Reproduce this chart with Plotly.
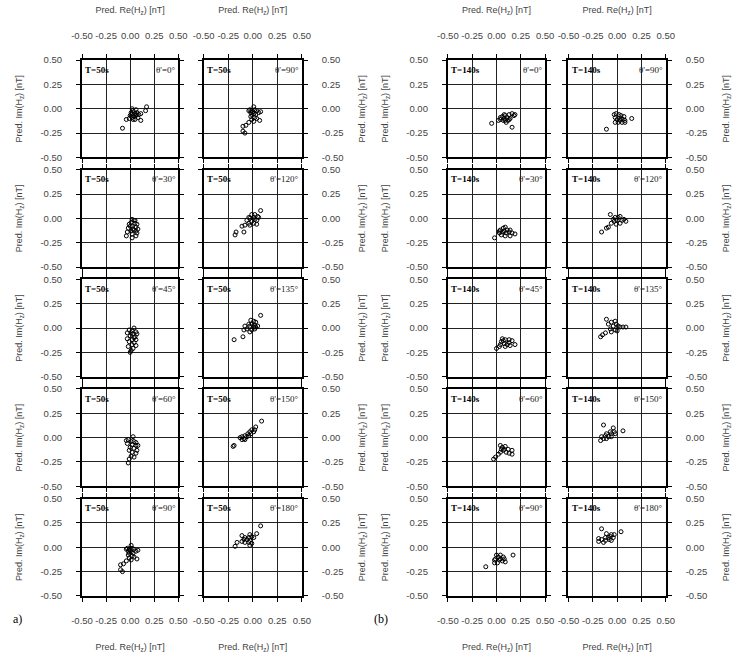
import plotly.graph_objects as go

W, H = 739, 657

tick_vals = [-0.5, -0.25, 0, 0.25, 0.5]
tick_text = ["-0.50", "-0.25", "0.00", "0.25", "0.50"]
x_title = "Pred. Re(H<sub>z</sub>) [nT]"
y_title = "Pred. Im(H<sub>z</sub>) [nT]"

# ---- T=50s ----
re_50_0 = [-0.08, -0.04, 0.17, 0.16, 0.11, 0.02, 0.03, 0.06, 0.01, 0.02, 0.05, 0.07, 0.0, 0.02, 0.04, 0.06, 0.09, -0.01, 0.03, 0.08, 0.11, 0.05, 0.01, 0.06]
im_50_0 = [-0.20, -0.11, 0.02, -0.02, -0.12, 0.0, -0.02, -0.01, -0.04, -0.05, -0.05, -0.04, -0.07, -0.09, -0.08, -0.07, -0.06, -0.10, -0.11, -0.09, -0.05, -0.11, -0.06, -0.06]

re_50_30 = [0.02, 0.04, 0.01, 0.05, -0.01, 0.07, 0.02, 0.06, -0.02, 0.03, 0.08, 0.01, 0.06, -0.03, 0.07, 0.02, -0.04, 0.02, 0.06, 0.05, 0.0, 0.04]
im_50_30 = [-0.01, -0.02, -0.04, -0.05, -0.06, -0.06, -0.08, -0.09, -0.10, -0.11, -0.11, -0.13, -0.13, -0.14, -0.15, -0.16, -0.18, -0.20, -0.18, -0.02, -0.08, -0.12]

re_50_45 = [0.04, -0.01, 0.02, 0.06, -0.03, 0.03, 0.07, 0.0, 0.05, -0.03, 0.02, 0.06, -0.01, 0.04, 0.02, 0.06, -0.02, 0.03, 0.01, 0.0, 0.01, 0.04]
im_50_45 = [0.0, -0.02, -0.03, -0.04, -0.05, -0.06, -0.06, -0.08, -0.09, -0.11, -0.12, -0.12, -0.14, -0.15, -0.17, -0.18, -0.19, -0.21, -0.23, -0.25, -0.05, -0.10]

re_50_60 = [0.03, -0.04, -0.02, 0.01, 0.04, 0.06, -0.03, 0.02, 0.06, 0.08, 0.0, 0.04, 0.07, -0.01, 0.02, 0.06, 0.01, 0.04, -0.01, -0.02]
im_50_60 = [0.01, -0.03, -0.02, -0.04, -0.04, -0.05, -0.06, -0.07, -0.08, -0.08, -0.10, -0.11, -0.13, -0.13, -0.15, -0.16, -0.19, -0.20, -0.22, -0.26]

re_50_90 = [0.01, -0.03, 0.02, -0.01, 0.04, 0.08, 0.01, -0.04, -0.01, 0.03, -0.02, 0.02, 0.04, 0.07, -0.01, 0.01, -0.04, -0.07, -0.10, -0.10, -0.08, 0.06, 0.0, -0.02]
im_50_90 = [0.02, -0.01, -0.01, -0.02, -0.02, -0.03, -0.05, -0.02, -0.06, -0.06, -0.08, -0.09, -0.10, -0.12, -0.11, -0.13, -0.14, -0.17, -0.18, -0.23, -0.25, -0.04, -0.03, -0.04]

re_50_120 = [0.08, 0.02, -0.01, 0.05, -0.04, 0.01, 0.06, -0.03, 0.02, -0.06, -0.01, 0.04, -0.04, 0.01, 0.04, -0.08, -0.03, -0.11, -0.09, -0.17, -0.18]
im_50_120 = [0.08, 0.04, 0.04, 0.02, 0.01, 0.01, 0.01, 0.0, -0.01, -0.02, -0.03, -0.02, -0.05, -0.05, -0.06, -0.07, -0.07, -0.08, -0.14, -0.14, -0.17]

re_50_135 = [0.08, -0.02, 0.01, 0.03, -0.04, -0.01, 0.02, -0.08, -0.03, 0.01, 0.03, -0.06, -0.01, 0.02, -0.09, -0.03, -0.10, -0.19, 0.05]
im_50_135 = [0.13, 0.08, 0.07, 0.06, 0.04, 0.04, 0.03, 0.02, 0.02, 0.01, 0.01, -0.01, -0.02, -0.01, -0.02, -0.04, -0.09, -0.12, 0.02]

re_50_150 = [0.09, 0.03, -0.01, -0.03, 0.01, -0.05, -0.02, -0.08, -0.04, -0.11, -0.06, -0.13, -0.09, -0.08, -0.11, -0.19, -0.20, 0.02]
im_50_150 = [0.17, 0.11, 0.08, 0.06, 0.06, 0.04, 0.04, 0.02, 0.02, 0.01, 0.01, 0.0, -0.01, -0.02, -0.02, -0.08, -0.09, 0.08]

re_50_180 = [0.08, 0.04, -0.03, -0.11, -0.01, -0.08, -0.04, 0.01, -0.09, -0.06, -0.03, -0.11, -0.08, -0.04, -0.01, -0.03, -0.16, -0.18]
im_50_180 = [0.22, 0.14, 0.13, 0.12, 0.11, 0.10, 0.10, 0.10, 0.08, 0.08, 0.07, 0.06, 0.05, 0.05, 0.04, 0.02, 0.05, 0.01]

# ---- T=140s ----
re_140_0 = [-0.05, 0.02, 0.04, 0.06, 0.08, 0.09, 0.11, 0.13, 0.16, 0.18, 0.19, 0.07, 0.09, 0.13, 0.04, 0.14, 0.16, 0.10, 0.08, 0.12]
im_140_0 = [-0.15, -0.12, -0.11, -0.08, -0.10, -0.07, -0.09, -0.06, -0.05, -0.07, -0.06, -0.12, -0.12, -0.11, -0.09, -0.10, -0.19, -0.14, -0.06, -0.12]

re_140_30 = [-0.02, 0.03, 0.04, 0.07, 0.09, 0.08, 0.11, 0.13, 0.16, 0.19, 0.05, 0.09, 0.14, 0.06, 0.10, 0.14, 0.03]
im_140_30 = [-0.20, -0.15, -0.12, -0.10, -0.09, -0.13, -0.12, -0.14, -0.15, -0.16, -0.17, -0.18, -0.18, -0.14, -0.15, -0.12, -0.13]

re_140_45 = [0.0, 0.03, 0.04, 0.07, 0.06, 0.09, 0.13, 0.16, 0.19, 0.08, 0.11, 0.14, 0.05, 0.09, 0.13]
im_140_45 = [-0.21, -0.19, -0.17, -0.13, -0.11, -0.12, -0.12, -0.13, -0.17, -0.16, -0.17, -0.18, -0.14, -0.19, -0.15]

re_140_60 = [-0.03, -0.01, 0.02, 0.04, 0.06, 0.09, 0.12, 0.16, 0.16, 0.07, 0.10, 0.13, 0.04, 0.08, 0.05]
im_140_60 = [-0.22, -0.20, -0.17, -0.08, -0.10, -0.09, -0.12, -0.13, -0.17, -0.13, -0.15, -0.16, -0.15, -0.12, -0.12]

re_140_90a = [-0.11, -0.02, -0.01, 0.02, 0.04, 0.07, 0.08, 0.03, 0.06, 0.01, 0.09, -0.02, 0.17, 0.04, 0.0]
im_140_90a = [-0.20, -0.13, -0.12, -0.10, -0.08, -0.10, -0.12, -0.13, -0.14, -0.16, -0.15, -0.16, -0.08, -0.12, -0.08]

re_140_90b = [-0.11, -0.03, -0.01, 0.02, 0.04, 0.07, -0.02, 0.0, 0.04, 0.08, -0.02, 0.01, 0.05, 0.08, 0.15, 0.03, 0.06]
im_140_90b = [-0.21, -0.06, -0.05, -0.06, -0.07, -0.08, -0.09, -0.11, -0.10, -0.12, -0.14, -0.14, -0.14, -0.14, -0.10, -0.12, -0.11]

re_140_120 = [-0.07, -0.02, 0.03, -0.04, 0.0, 0.05, 0.09, -0.06, -0.01, -0.09, -0.11, -0.16, 0.01, 0.07, -0.03, 0.03]
im_140_120 = [0.04, 0.01, 0.02, -0.01, -0.02, -0.02, -0.03, -0.05, -0.06, -0.09, -0.10, -0.14, 0.01, -0.01, -0.03, -0.05]

re_140_135 = [-0.11, -0.09, -0.06, -0.02, -0.01, -0.04, 0.01, 0.03, 0.06, -0.07, -0.02, 0.0, -0.06, -0.12, -0.15, -0.17, 0.09]
im_140_135 = [0.09, 0.04, 0.06, 0.07, 0.04, 0.02, 0.02, 0.01, 0.01, -0.01, -0.02, -0.03, -0.04, -0.05, -0.07, -0.09, 0.01]

re_140_150 = [-0.14, 0.06, -0.04, -0.07, -0.06, -0.11, -0.02, -0.12, -0.09, -0.06, -0.16, -0.17, -0.11, -0.14, -0.03]
im_140_150 = [0.13, 0.07, 0.10, 0.06, 0.04, 0.04, 0.04, 0.02, 0.01, 0.01, 0.01, -0.03, -0.01, -0.01, 0.06]

re_140_180 = [-0.16, 0.04, -0.03, -0.11, -0.07, -0.06, -0.12, -0.09, -0.04, -0.19, -0.16, -0.12, -0.08, -0.19, -0.14, -0.06]
im_140_180 = [0.19, 0.16, 0.13, 0.14, 0.11, 0.13, 0.10, 0.10, 0.10, 0.09, 0.08, 0.07, 0.08, 0.06, 0.05, 0.07]

# panel grid: (column index, row index, re list, im list, period label, angle)
panels = [
    (0, 0, re_50_0, im_50_0, "T=50s", 0),
    (0, 1, re_50_30, im_50_30, "T=50s", 30),
    (0, 2, re_50_45, im_50_45, "T=50s", 45),
    (0, 3, re_50_60, im_50_60, "T=50s", 60),
    (0, 4, re_50_90, im_50_90, "T=50s", 90),
    (1, 0, re_50_90, im_50_90, "T=50s", 90),
    (1, 1, re_50_120, im_50_120, "T=50s", 120),
    (1, 2, re_50_135, im_50_135, "T=50s", 135),
    (1, 3, re_50_150, im_50_150, "T=50s", 150),
    (1, 4, re_50_180, im_50_180, "T=50s", 180),
    (2, 0, re_140_0, im_140_0, "T=140s", 0),
    (2, 1, re_140_30, im_140_30, "T=140s", 30),
    (2, 2, re_140_45, im_140_45, "T=140s", 45),
    (2, 3, re_140_60, im_140_60, "T=140s", 60),
    (2, 4, re_140_90a, im_140_90a, "T=140s", 90),
    (3, 0, re_140_90b, im_140_90b, "T=140s", 90),
    (3, 1, re_140_120, im_140_120, "T=140s", 120),
    (3, 2, re_140_135, im_140_135, "T=140s", 135),
    (3, 3, re_140_150, im_140_150, "T=140s", 150),
    (3, 4, re_140_180, im_140_180, "T=140s", 180),
]

col_px = [(73, 172), (198, 299), (449, 549), (573, 673)]
row_top = [55, 166.5, 278, 389.5, 501]
row_h = 99

SANS = "Liberation Sans, Arial, sans-serif"
SERIF = "Liberation Serif, Times New Roman, serif"
GREY = "#444444"

fig = go.Figure()
annotations = []
layout = {}

for k, (c, r, xs, ys, per, ang) in enumerate(panels, start=1):
    sfx = "" if k == 1 else str(k)
    fig.add_trace(go.Scatter(
        x=xs, y=ys, mode="markers", xaxis="x" + sfx, yaxis="y" + sfx,
        marker=dict(symbol="circle-open", size=4, color="black", line=dict(width=1)),
        showlegend=False, hoverinfo="skip"))
    x0, x1 = col_px[c]
    top = row_top[r]
    common = dict(range=[-0.5, 0.5], tickvals=tick_vals, ticktext=tick_text,
                  showgrid=True, gridcolor="#222222", gridwidth=1,
                  showline=True, linecolor="black", linewidth=2, mirror="allticks",
                  ticks="outside", ticklen=4, tickwidth=1, tickcolor="black",
                  zeroline=False, fixedrange=True,
                  tickfont=dict(family=SANS, size=9.5, color=GREY))
    xa = dict(common, domain=[x0 / W, x1 / W], anchor="y" + sfx)
    if r == 0:
        xa.update(side="top", showticklabels=True, ticklabelstandoff=11,
                  title=dict(text=x_title, font=dict(family=SANS, size=9, color=GREY), standoff=15))
    elif r == 4:
        xa.update(side="bottom", showticklabels=True, ticklabelstandoff=11,
                  title=dict(text=x_title, font=dict(family=SANS, size=9, color=GREY), standoff=18))
    else:
        xa.update(side="bottom", showticklabels=False)
    ya = dict(common, domain=[1 - (top + row_h) / H, 1 - top / H], anchor="x" + sfx,
              showticklabels=True, side="left" if c in (0, 2) else "right",
              ticklabelstandoff=12,
              title=dict(text=y_title, font=dict(family=SANS, size=9, color=GREY), standoff=16))
    layout["xaxis" + sfx] = xa
    layout["yaxis" + sfx] = ya
    annotations.append(dict(x=-0.485, y=0.40, xref="x" + sfx, yref="y" + sfx, text="<b>%s</b>" % per,
                            showarrow=False, xanchor="left", yanchor="middle",
                            font=dict(family=SERIF, size=9, color="black")))
    annotations.append(dict(x=0.495, y=0.40, xref="x" + sfx, yref="y" + sfx, text="θ'=%d°" % ang,
                            showarrow=False, xanchor="right", yanchor="middle",
                            font=dict(family=SERIF, size=9, color="#222222")))

annotations.append(dict(x=0 / W, y=1 - 623 / H, xref="paper", yref="paper", text="a)", showarrow=False,
                        xanchor="left", yanchor="middle", font=dict(family=SERIF, size=12, color="black")))
annotations.append(dict(x=371 / W, y=1 - 623 / H, xref="paper", yref="paper", text="(b)", showarrow=False,
                        xanchor="left", yanchor="middle", font=dict(family=SERIF, size=12, color="black")))

fig.update_layout(**layout)
fig.update_layout(width=W, height=H, margin=dict(l=0, r=0, t=0, b=0),
                  paper_bgcolor="white", plot_bgcolor="white",
                  annotations=annotations, showlegend=False)

fig.write_html("out.html")
